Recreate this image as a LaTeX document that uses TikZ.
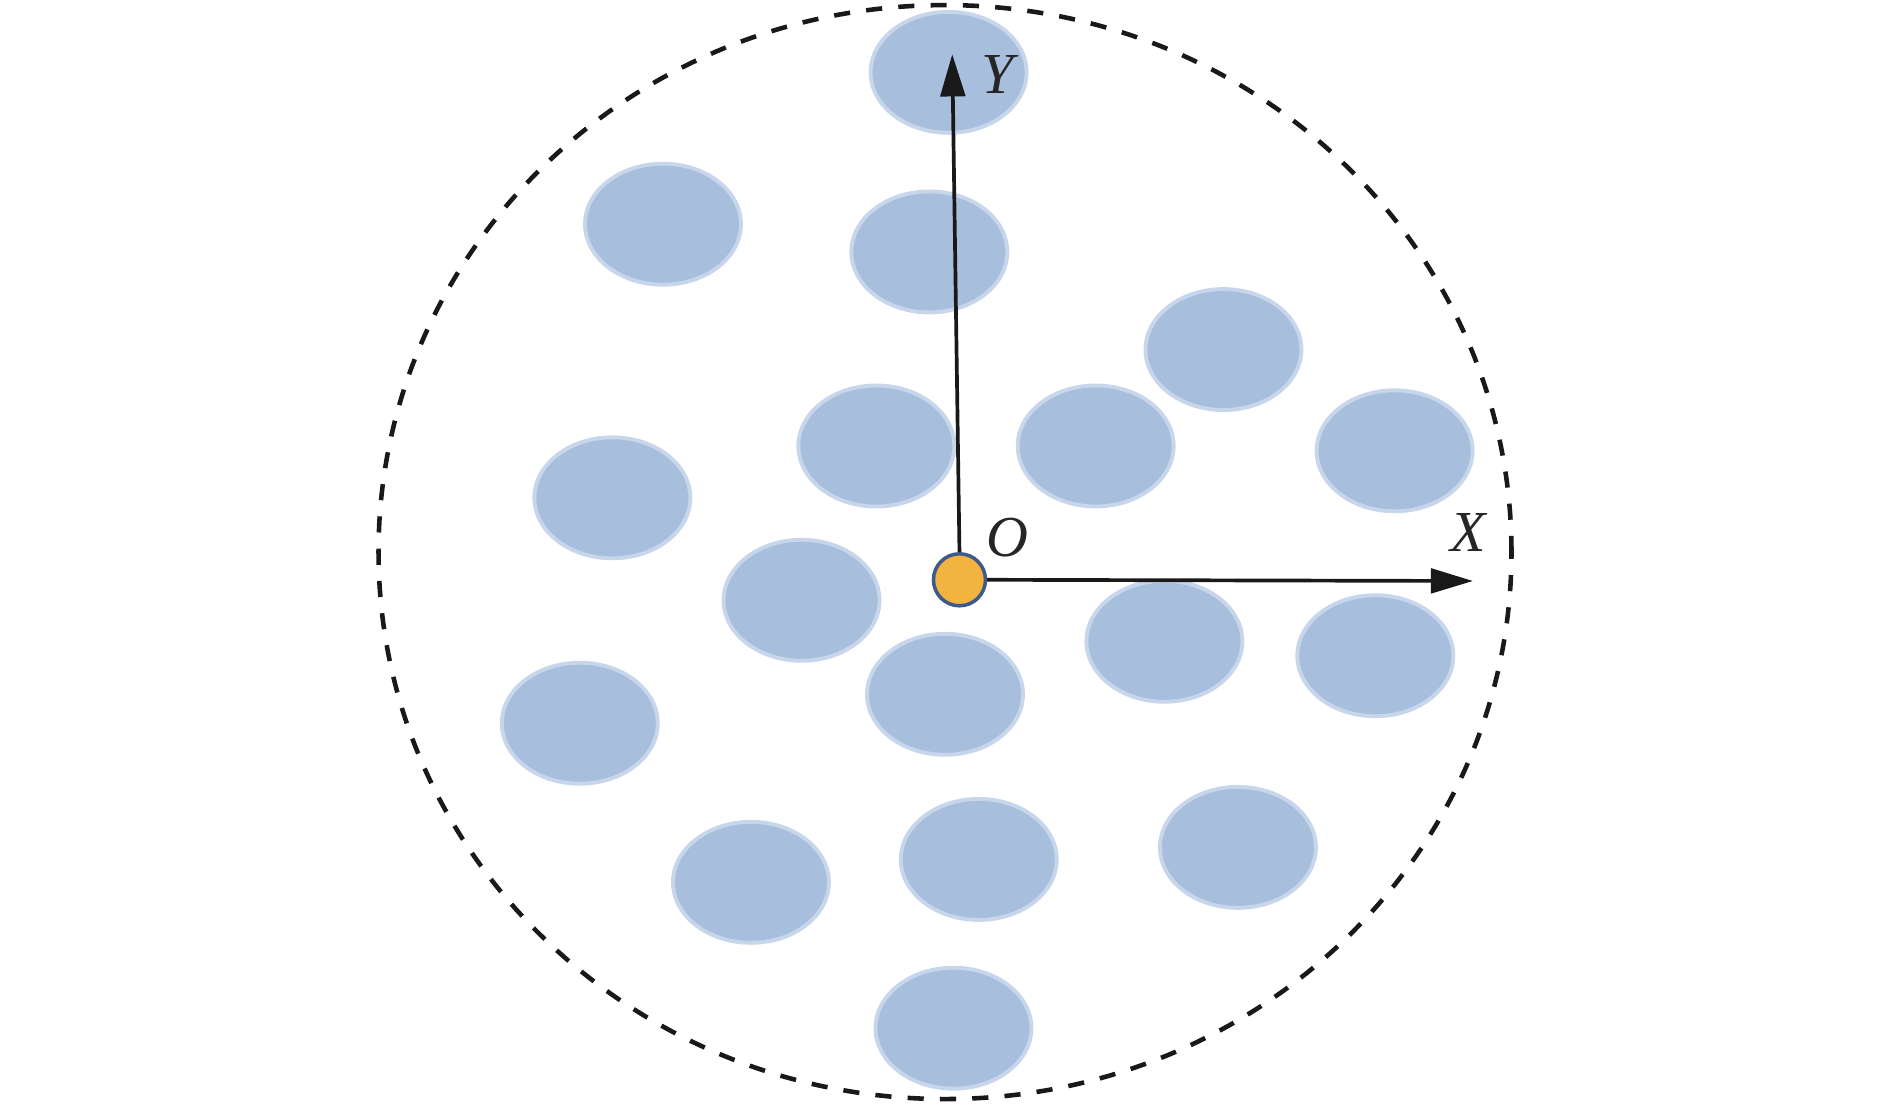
\documentclass[tikz,border=0pt]{standalone}
\usepackage{fontspec}
\setmainfont{Liberation Serif}
\usepackage{tikz}
\usetikzlibrary{shapes.geometric,arrows.meta}
\definecolor{grainblue}{HTML}{A8BEDD}
\definecolor{grainedge}{HTML}{C8D6EC}
\definecolor{pointfill}{HTML}{F3B33F}
\definecolor{pointedge}{HTML}{3D5A8A}
\tikzset{
  grain/.style     = {shape=ellipse, draw=grainedge, fill=grainblue,
                      line width=1.1pt, inner sep=0pt,
                      minimum width=1.56cm, minimum height=1.21cm},
  orig/.style      = {shape=circle, draw=pointedge, fill=pointfill,
                      line width=1pt, inner sep=0pt, minimum size=0.52cm},
  axisline/.style  = {draw=black!90, line width=1.05pt,
                      -{Triangle[length=12pt,width=7pt]}},
  axislabel/.style = {font=\fontsize{16.5}{18}\selectfont\itshape, text=black!85}
}

\begin{document}
\begin{tikzpicture}
  [
    x = 0.012054cm,
    y = -0.012054cm
  ]
  \useasboundingbox (0,0) rectangle (1568,916);
  % boundary
  \draw [black!90, line width=1.3pt, dash pattern=on 4.6pt off 4.6pt]
    (784,458) ellipse [x radius=5.665cm, y radius=5.47cm];
  % grains
  \foreach \n/\px/\py in {1/787/60, 2/550/186, 3/771/209, 4/1015/290,
                          5/727/370, 6/909/370, 7/1157/374, 8/508/413,
                          9/665/498, 10/966/532, 11/1141/544, 12/784/576,
                          13/481/600, 14/623/732, 15/812/713, 16/1027/703,
                          17/791/853}
    \node [grain] (g\n) at (\px,\py) {};
  % axes
  \node [orig] (O) at (796,481) {};
  \coordinate (xend) at (1222,482);
  \coordinate (yend) at (790,45);
  \draw [axisline] (O.east) -- (xend);
  \draw [axisline] (O.north) -- (yend);
  \node [axislabel] (lo) at (836,446) {O};
  \node [axislabel] (lx) at (1218,442) {X};
  \node [axislabel] (ly) at (828,62) {Y};
\end{tikzpicture}
\end{document}
